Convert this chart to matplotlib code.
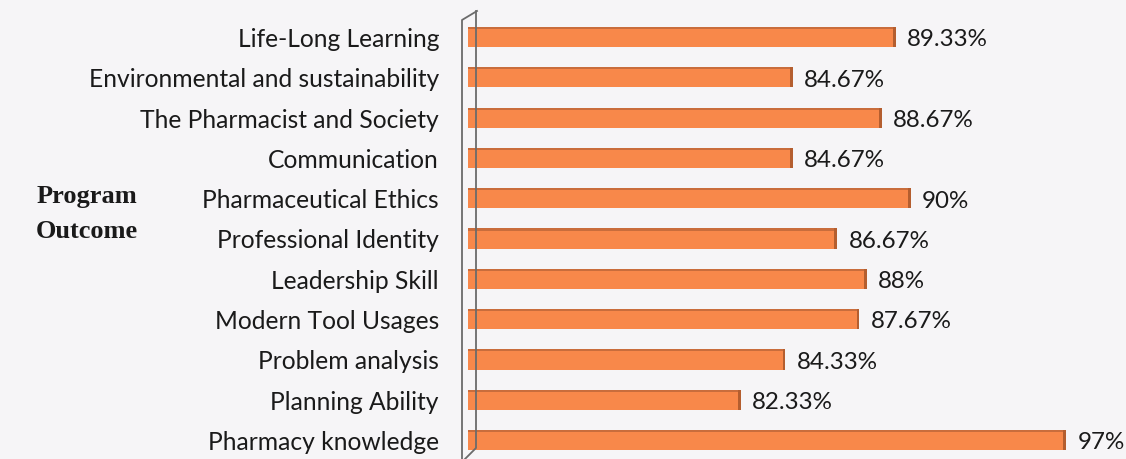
import matplotlib
matplotlib.use("Agg")
import matplotlib.pyplot as plt
from matplotlib.lines import Line2D
from matplotlib.patches import Rectangle
from matplotlib.transforms import blended_transform_factory

categories = ["Pharmacy knowledge", "Planning Ability", "Problem analysis",
              "Modern Tool Usages", "Leadership Skill", "Professional Identity",
              "Pharmaceutical Ethics", "Communication", "The Pharmacist and Society",
              "Environmental and sustainability", "Life-Long Learning"]
values = [97, 82.33, 84.33, 87.67, 88, 86.67, 90, 84.67, 88.67, 84.67, 89.33]
value_labels = ["97%", "82.33%", "84.33%", "87.67%", "88%", "86.67%",
                "90%", "84.67%", "88.67%", "84.67%", "89.33%"]
axis_title_lines = ["Program", "Outcome"]

W, H = 1126, 459
fig = plt.figure(figsize=(W / 100, H / 100), dpi=100)
bg = "#F6F5F7"
fig.patch.set_facecolor(bg)

ax = fig.add_axes([468 / W, 0, 658 / W, 1])
ax.set_facecolor("none")
ax.set_xlim(70, 99.7)
ax.set_ylim(-0.47, 10.92)
for s in ax.spines.values():
    s.set_visible(False)
ax.set_xticks([])
ax.set_yticks([])

base = 70
h = 0.5
ys = list(range(len(values)))
ax.barh(ys, [v - base for v in values], left=base, height=h,
        color="#F8884A", edgecolor="none", zorder=3)
# 3D-ish details: darker top strip and end cap
for y, v in zip(ys, values):
    ax.add_patch(Rectangle((base, y + h / 2 - 0.05), v - base, 0.05,
                           facecolor="#C96D3C", edgecolor="none", zorder=4))
    ax.add_patch(Rectangle((v - 0.13, y - h / 2), 0.13, h,
                           facecolor="#B45E2F", edgecolor="none", zorder=4))

for y, v, lab in zip(ys, values, value_labels):
    ax.annotate(lab, xy=(v, y), xytext=(8, -2), textcoords="offset points",
                ha="left", va="center", fontsize=17.4, family="Lato",
                color="#1a1a1a", zorder=5)

tr = blended_transform_factory(fig.transFigure, ax.transData)
for y, c in zip(ys, categories):
    fig.text(439 / W, y - 0.06, c, transform=tr, ha="right", va="center",
             fontsize=17.7, family="Lato", color="#1a1a1a")

def fx(x):
    return x / W

def fy(y):
    return 1 - y / H

lc = "#6b6b6b"
fig.add_artist(Line2D([fx(462), fx(462), fx(477)], [fy(462), fy(20), fy(11)],
                      color=lc, lw=1.3, zorder=1))
fig.add_artist(Line2D([fx(462), fx(476), fx(476)], [fy(462), fy(448), fy(11)],
                      color=lc, lw=1.3, zorder=1))

for yy, t in zip([196, 231], axis_title_lines):
    fig.text(87 / W, fy(yy), t, ha="center", va="center",
             fontsize=19, family="Liberation Serif", fontweight="bold",
             color="#1a1a1a")

fig.savefig("out.png", dpi=100, facecolor=bg)
